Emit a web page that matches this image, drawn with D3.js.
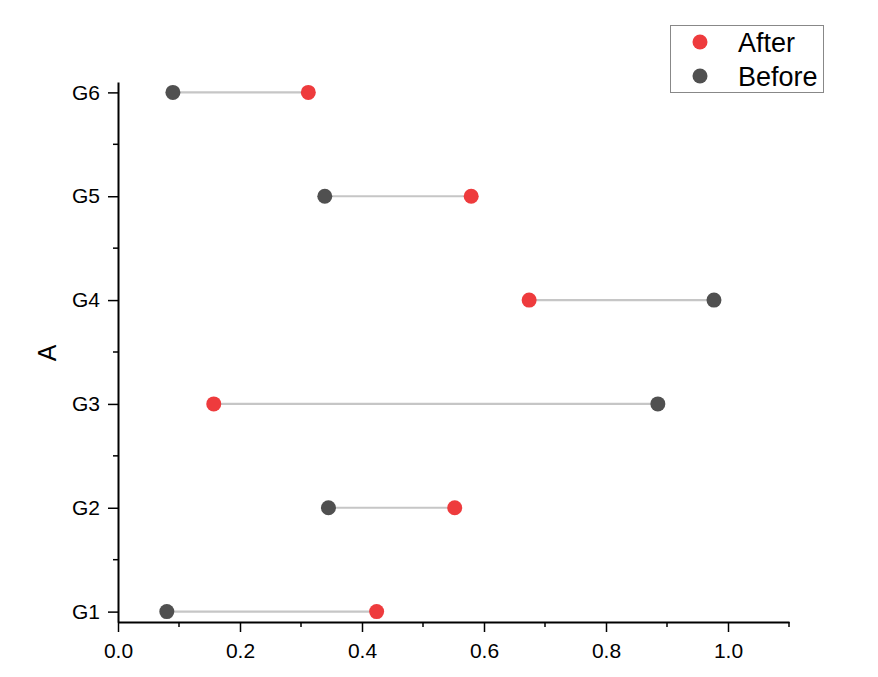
<!DOCTYPE html>
<html><head><meta charset="utf-8">
<script src="https://cdn.jsdelivr.net/npm/d3@7"></script>
<style>body{margin:0;background:#fff;}svg{display:block;}</style>
</head><body>
<svg id="c" width="878" height="677"></svg>
<script>
const categories = ["G1","G2","G3","G4","G5","G6"];
const before = [0.080, 0.345, 0.885, 0.977, 0.339, 0.090];
const after  = [0.424, 0.552, 0.157, 0.674, 0.579, 0.312];
const xTicks = [0, 0.2, 0.4, 0.6, 0.8, 1.0];
const xMinor = [0.1, 0.3, 0.5, 0.7, 0.9, 1.1];
const seriesNames = ["After", "Before"];
const colors = {After: "#EE3B3D", Before: "#505050"};

const svg = d3.select("#c");
const font = "Arial, 'Liberation Sans', sans-serif";
const x = d3.scaleLinear().domain([0, 1.1]).range([118, 789]);
const yv = d3.scaleLinear().domain([0.9, 6.1]).range([622, 82]);
const yPos = i => yv(i + 1);

// axes
const xAxis = d3.axisBottom(x).tickValues(xTicks).tickFormat(d3.format(".1f")).tickSize(10).tickPadding(11).tickSizeOuter(0);
const gx = svg.append("g").attr("transform", "translate(0,622)").call(xAxis);
gx.selectAll("text").style("font-size", "21px").style("font-family", font).attr("fill", "#000");
gx.append("g").selectAll("line").data(xMinor).join("line")
  .attr("x1", d => x(d)).attr("x2", d => x(d)).attr("y1", 0).attr("y2", 5).attr("stroke", "#000").attr("stroke-width", 1.5);

const yAxis = d3.axisLeft(yv).tickValues([1,2,3,4,5,6]).tickFormat(d => categories[d-1]).tickSize(10).tickPadding(8).tickSizeOuter(0);
const gy = svg.append("g").attr("transform", "translate(118,0)").call(yAxis);
gy.selectAll("text").style("font-size", "21px").style("font-family", font).attr("fill", "#000");
gy.append("g").selectAll("line").data([1.5,2.5,3.5,4.5,5.5]).join("line")
  .attr("y1", d => yv(d)).attr("y2", d => yv(d)).attr("x1", 0).attr("x2", -5).attr("stroke", "#000").attr("stroke-width", 1.5);
[gx, gy].forEach(g => { g.selectAll("path.domain").attr("stroke", "#000").attr("stroke-width", 2); g.selectAll(".tick line").attr("stroke", "#000").attr("stroke-width", 1.5); });

svg.append("text").attr("transform", "translate(56,353) rotate(-90)").attr("text-anchor", "middle")
  .style("font-size", "25px").style("font-family", font).text("A");

// lines
svg.append("g").selectAll("line").data(categories).join("line")
  .attr("x1", (d,i) => x(before[i])).attr("x2", (d,i) => x(after[i]))
  .attr("y1", (d,i) => yPos(i)).attr("y2", (d,i) => yPos(i))
  .attr("stroke", "#C6C6C6").attr("stroke-width", 2.2);

// dots
svg.append("g").selectAll("circle").data(categories).join("circle")
  .attr("cx", (d,i) => x(before[i])).attr("cy", (d,i) => yPos(i)).attr("r", 7.5).attr("fill", colors.Before);
svg.append("g").selectAll("circle").data(categories).join("circle")
  .attr("cx", (d,i) => x(after[i])).attr("cy", (d,i) => yPos(i)).attr("r", 7.5).attr("fill", colors.After);

// legend
const lg = svg.append("g");
lg.append("rect").attr("x", 670.5).attr("y", 25.5).attr("width", 153).attr("height", 67)
  .attr("fill", "#fff").attr("stroke", "#888").attr("stroke-width", 1);
seriesNames.forEach((s, i) => {
  const cy = 42 + i * 34;
  lg.append("circle").attr("cx", 700).attr("cy", cy).attr("r", 7.5).attr("fill", colors[s]);
  lg.append("text").attr("x", 738).attr("y", cy).attr("dy", "0.36em").style("font-size", "27px")
    .style("font-family", font).text(s);
});
</script>
</body></html>
